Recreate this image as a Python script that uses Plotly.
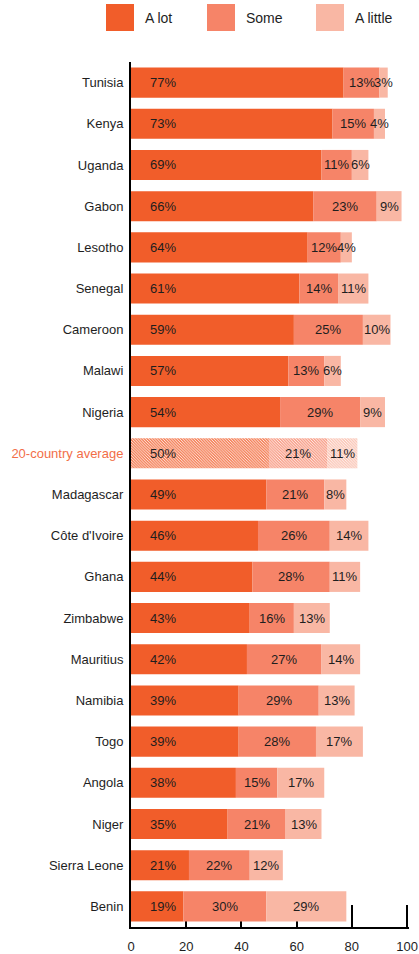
import plotly.graph_objects as go

countries = ["Tunisia", "Kenya", "Uganda", "Gabon", "Lesotho", "Senegal", "Cameroon",
             "Malawi", "Nigeria", "20-country average", "Madagascar", "Côte d'Ivoire",
             "Ghana", "Zimbabwe", "Mauritius", "Namibia", "Togo", "Angola", "Niger",
             "Sierra Leone", "Benin"]
a_lot = [77, 73, 69, 66, 64, 61, 59, 57, 54, 50, 49, 46, 44, 43, 42, 39, 39, 38, 35, 21, 19]
some = [13, 15, 11, 23, 12, 14, 25, 13, 29, 21, 21, 26, 28, 16, 27, 29, 28, 15, 21, 22, 30]
a_little = [3, 4, 6, 9, 4, 11, 10, 6, 9, 11, 8, 14, 11, 13, 14, 13, 17, 17, 13, 12, 29]
series_names = ["A lot", "Some", "A little"]
x_ticks = [0, 20, 40, 60, 80, 100]
avg_label = "20-country average"

colors = ["#F15D2A", "#F68468", "#F9B7A4"]
avg_color = "#F26E48"
text_color = "#1E1E1E"
FONT = "Liberation Sans"

W, H = 419, 954
L, R, T, B = 131, 10, 62, 27
PW, PH = W - L - R, H - T - B

fig = go.Figure()
series = [a_lot, some, a_little]
bases = [[0] * len(countries), a_lot, [a + s for a, s in zip(a_lot, some)]]
for name, vals, base, col in zip(series_names, series, bases, colors):
    shapes_ = ["\\" if c == avg_label else "" for c in countries]
    fig.add_trace(go.Bar(
        y=countries, x=vals, base=base, orientation="h", name=name,
        marker=dict(color=col, line=dict(width=0),
                    pattern=dict(shape=shapes_, fgcolor="white", fgopacity=0.9,
                                 size=2, solidity=0.5, fillmode="overlay")),
        width=0.73, showlegend=False, hoverinfo="skip"))

annotations = []
for i, c in enumerate(countries):
    annotations.append(dict(x=0, y=c, xref="x", yref="y", text=f"{a_lot[i]}%",
                            xanchor="left", xshift=17, showarrow=False,
                            font=dict(family=FONT, size=13, color=text_color)))
    for vals, base in ((some, bases[1]), (a_little, bases[2])):
        annotations.append(dict(x=base[i] + vals[i] / 2, y=c, xref="x", yref="y",
                                text=f"{vals[i]}%", xanchor="center", showarrow=False,
                                font=dict(family=FONT, size=13, color=text_color)))

def px_x(p):
    return (p - L) / PW

def px_y(p):
    return (T + PH - p) / PH

shapes = []
legend_left = [106, 207, 316]
for name, col, lx in zip(series_names, colors, legend_left):
    shapes.append(dict(type="rect", xref="paper", yref="paper",
                       x0=px_x(lx), x1=px_x(lx + 28), y0=px_y(31), y1=px_y(4),
                       fillcolor=col, line=dict(width=0)))
    annotations.append(dict(xref="paper", yref="paper", x=px_x(lx + 37), y=px_y(17.5),
                            text=name, xanchor="left", yanchor="middle", showarrow=False,
                            font=dict(family=FONT, size=14, color=text_color)))

ticktext = [f"<span style='color:{avg_color}'>{c}</span>" if c == avg_label else c
            for c in countries]

fig.update_layout(
    width=W, height=H, margin=dict(l=L, r=R, t=T, b=B, autoexpand=False),
    barmode="overlay", plot_bgcolor="white", paper_bgcolor="white",
    annotations=annotations, shapes=shapes, showlegend=False,
    font=dict(family=FONT, size=13, color=text_color),
)
fig.update_xaxes(range=[0, 100.7], tickvals=x_ticks, ticks="inside", ticklen=22,
                 tickwidth=2, tickcolor="black", showline=True, linecolor="black",
                 linewidth=2, showgrid=False, zeroline=False, layer="below traces",
                 tickfont=dict(family=FONT, size=13, color=text_color),
                 ticklabelstandoff=6, ticklabeloverflow="allow")
fig.update_yaxes(categoryorder="array", categoryarray=countries, autorange="reversed",
                 tickvals=countries, ticktext=ticktext, showline=True,
                 linecolor="black", linewidth=2, showgrid=False, ticks="",
                 tickfont=dict(family=FONT, size=13, color=text_color),
                 ticklabelstandoff=3)

fig.write_html("out.html",
               config={"displayModeBar": False, "staticPlot": True},
               post_script="document.body.style.margin='0';"
                           "document.body.style.overflow='hidden';")
